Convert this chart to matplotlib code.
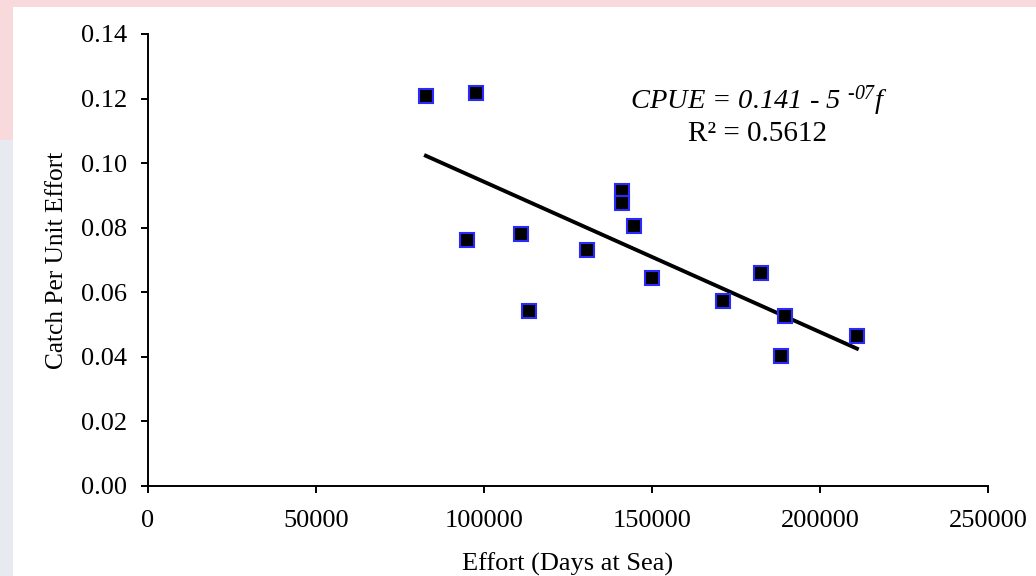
import numpy as np
import matplotlib
matplotlib.use("Agg")
import matplotlib.pyplot as plt
from matplotlib.patches import Rectangle

# Data
effort = [82700, 97600, 94900, 111000, 113400, 130700, 141100, 141100,
          144600, 150000, 171100, 182400, 188400, 189600, 211000]
cpue = [0.1208, 0.1218, 0.0762, 0.0781, 0.0542, 0.0731, 0.0914, 0.0877,
        0.0805, 0.0644, 0.0573, 0.0660, 0.0403, 0.0527, 0.0465]
x_ticks = [0, 50000, 100000, 150000, 200000, 250000]
y_ticks = [0.00, 0.02, 0.04, 0.06, 0.08, 0.10, 0.12, 0.14]
y_tick_labels = ["0.00", "0.02", "0.04", "0.06", "0.08", "0.10", "0.12", "0.14"]
equation_text = r"CPUE = 0.141 - 5 $^{\text{-07}}$f"
r2_text = "R² = 0.5612"
x_label = "Effort (Days at Sea)"
y_label = "Catch Per Unit Effort"

plt.rcParams['font.family'] = ['Liberation Serif', 'DejaVu Serif']
plt.rcParams['mathtext.fontset'] = 'custom'
plt.rcParams['mathtext.rm'] = 'Liberation Serif:italic'
plt.rcParams['mathtext.it'] = 'Liberation Serif:italic'
plt.rcParams['mathtext.default'] = 'it'

W, H = 1036, 576
fig = plt.figure(figsize=(W / 100, H / 100), dpi=100)
fig.patch.set_facecolor('white')

# faint background bands (watermark edges)
fig.patches.append(Rectangle((0, 1 - 7 / H), 1, 7 / H, transform=fig.transFigure,
                             facecolor='#f8dadd', edgecolor='none', zorder=-10))
fig.patches.append(Rectangle((0, 1 - 140 / H), 13 / W, 140 / H, transform=fig.transFigure,
                             facecolor='#f8dadd', edgecolor='none', zorder=-10))
fig.patches.append(Rectangle((0, 0), 13 / W, 1 - 140 / H, transform=fig.transFigure,
                             facecolor='#e8eaf1', edgecolor='none', zorder=-10))

ax = fig.add_axes([148 / W, 1 - 486 / H, (988 - 148) / W, (486 - 34) / H])
ax.set_facecolor('none')

# trend line
coef = np.polyfit(effort, cpue, 1)
xs = np.array([min(effort), max(effort)])
ax.plot(xs, np.polyval(coef, xs), color='black', lw=2.8, zorder=2)

ax.plot(effort, cpue, linestyle='none', marker='s', markersize=9.5,
        markerfacecolor='black', markeredgecolor='#2a2aff', markeredgewidth=1.5,
        zorder=3)

ax.set_xlim(0, 250000)
ax.set_ylim(0, 0.14)
ax.set_xticks(x_ticks)
ax.set_xticklabels([str(v) for v in x_ticks])
ax.set_yticks(y_ticks)
ax.set_yticklabels(y_tick_labels)

for s in ['top', 'right']:
    ax.spines[s].set_visible(False)
for s in ['left', 'bottom']:
    ax.spines[s].set_linewidth(1.4)
    ax.spines[s].set_color('black')

ax.tick_params(axis='both', direction='out', length=5, width=1.4,
               labelsize=19, colors='black')
ax.tick_params(axis='x', pad=12)
ax.tick_params(axis='y', pad=10)

ax.set_xlabel(x_label, fontsize=19, labelpad=15)
ax.set_ylabel(y_label, fontsize=18.3, labelpad=9)

ax.text(759 / W, 1 - 101 / H, equation_text, transform=fig.transFigure,
        ha='center', va='center', fontsize=20.5, style='italic')
ax.text(758 / W, 1 - 134 / H, r2_text, transform=fig.transFigure,
        ha='center', va='center', fontsize=21)

fig.savefig('out.png', dpi=100, facecolor='white')
